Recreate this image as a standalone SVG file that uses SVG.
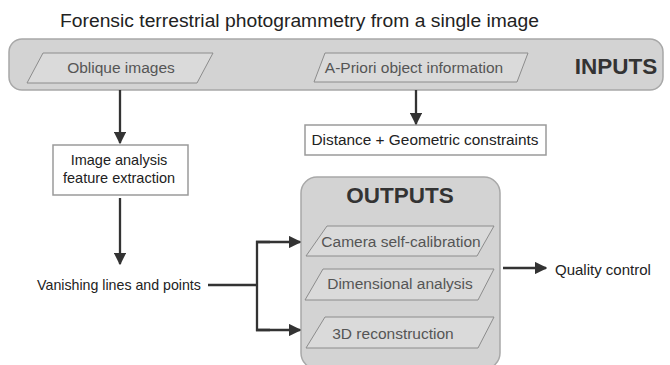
<svg xmlns="http://www.w3.org/2000/svg" width="670" height="365" viewBox="0 0 670 365">
<defs>
<style>
.band{fill:#d3d3d3;stroke:#a8a8a8;stroke-width:1.5}
.para{fill:#dadada;stroke:#8c8c8c;stroke-width:1}
.box{fill:#ffffff;stroke:#9a9a9a;stroke-width:1.5}
.ptxt{font-family:"Liberation Sans",Arial,sans-serif;font-size:15.5px;fill:#555;text-anchor:middle}
.txt{font-family:"Liberation Sans",Arial,sans-serif;font-size:14.5px;fill:#222;text-anchor:middle}
.bold{font-family:"Liberation Sans",Arial,sans-serif;font-size:22.5px;font-weight:bold;fill:#333;text-anchor:middle}
.conn{fill:none;stroke:#333;stroke-width:2.3}
</style>
<marker id="ah" viewBox="0 0 10 10" refX="9" refY="5" markerWidth="5.5" markerHeight="5.5" orient="auto" markerUnits="strokeWidth">
<path d="M0,0 L10,5 L0,10 Z" fill="#333"/>
</marker>
</defs>
<rect width="670" height="365" fill="#ffffff"/>
<text x="60" y="27" font-family="Liberation Sans, Arial, sans-serif" font-size="17.5" fill="#222" textLength="479" lengthAdjust="spacingAndGlyphs">Forensic terrestrial photogrammetry from a single image</text>

<g id="inputs">
<rect class="band" x="9" y="39" width="654" height="51" rx="13"/>
<text class="bold" x="616" y="74">INPUTS</text>
</g>
<g id="oblique">
<polygon class="para" points="43,53 213,53 197,83 27,83"/>
<text class="ptxt" x="121" y="73">Oblique images</text>
</g>
<g id="apriori">
<polygon class="para" points="325,53 528,53 517,82 314,82"/>
<text class="ptxt" x="414" y="73">A-Priori object information</text>
</g>
<g id="distance">
<rect class="box" x="305" y="125" width="241" height="30"/>
<text class="txt" x="425" y="145" style="font-size:15.4px">Distance + Geometric constraints</text>
</g>
<g id="imageanalysis">
<rect class="box" x="53" y="145" width="135" height="50"/>
<text class="txt" x="119" y="165">Image analysis</text>
<text class="txt" x="119" y="183">feature extraction</text>
</g>
<g id="vanishing">
<text class="txt" x="119" y="290" style="font-size:14.2px">Vanishing lines and points</text>
</g>
<g id="outputs">
<rect class="band" x="301" y="177" width="199" height="192" rx="16"/>
<text class="bold" x="400" y="203">OUTPUTS</text>
<polygon class="para" points="327,226 494,226 477,256 306,256"/>
<text class="ptxt" x="401" y="247">Camera self-calibration</text>
<polygon class="para" points="323,269 494,269 478,300 305,300"/>
<text class="ptxt" x="400" y="289">Dimensional analysis</text>
<polygon class="para" points="325,317 494,317 478,348 306,348"/>
<text class="ptxt" x="393" y="339">3D reconstruction</text>
</g>
<g id="quality">
<text x="555" y="275" font-family="Liberation Sans, Arial, sans-serif" font-size="15" fill="#222">Quality control</text>
</g>

<g id="connectors">
<line class="conn" x1="120" y1="90" x2="120" y2="143" marker-end="url(#ah)"/>
<line class="conn" x1="416" y1="90" x2="416" y2="124" marker-end="url(#ah)"/>
<line class="conn" x1="120" y1="198" x2="120" y2="264" marker-end="url(#ah)"/>
<polyline class="conn" points="208,285 257,285"/>
<polyline class="conn" points="270,242 257,242 257,330 270,330"/>
<line class="conn" x1="256" y1="242" x2="300" y2="242" marker-end="url(#ah)"/>
<line class="conn" x1="256" y1="330" x2="300" y2="330" marker-end="url(#ah)"/>
<line class="conn" x1="503" y1="268" x2="546" y2="268" marker-end="url(#ah)"/>
</g>
</svg>
